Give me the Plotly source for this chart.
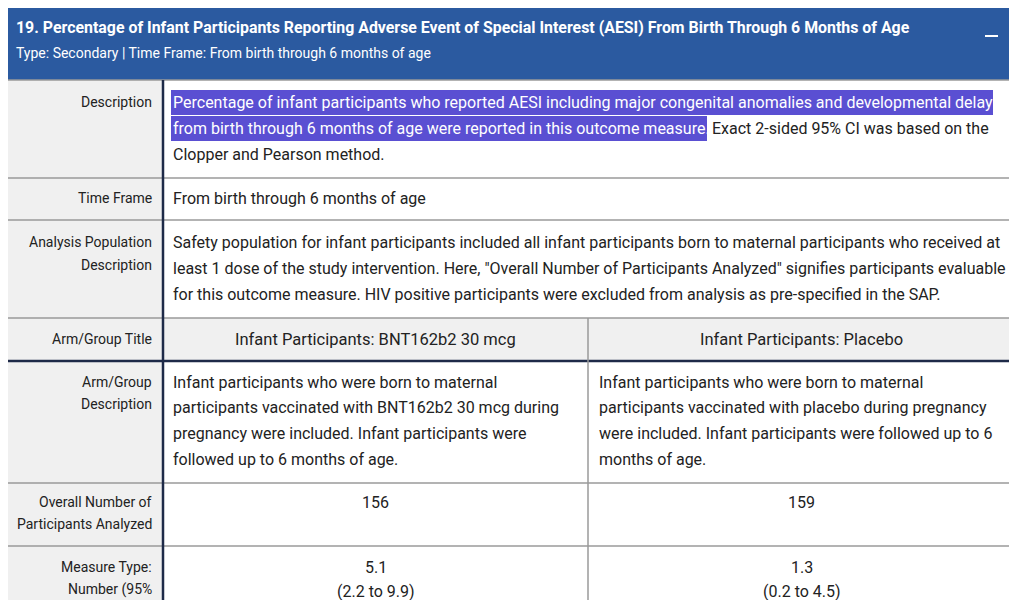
import plotly.graph_objects as go

title = "19. Percentage of Infant Participants Reporting Adverse Event of Special Interest (AESI) From Birth Through 6 Months of Age"
subtitle = "Type: Secondary | Time Frame: From birth through 6 months of age"
arm_titles = ["Infant Participants: BNT162b2 30 mcg", "Infant Participants: Placebo"]
arm_desc = [
    ["Infant participants who were born to maternal", "participants vaccinated with BNT162b2 30 mcg during",
     "pregnancy were included. Infant participants were", "followed up to 6 months of age."],
    ["Infant participants who were born to maternal", "participants vaccinated with placebo during pregnancy",
     "were included. Infant participants were followed up to 6", "months of age."],
]
n_analyzed = [156, 159]
measure_values = [5.1, 1.3]
ci_low = [2.2, 0.2]
ci_high = [9.9, 4.5]
desc_hl = ["Percentage of infant participants who reported AESI including major congenital anomalies and developmental delay",
           "from birth through 6 months of age were reported in this outcome measure."]
desc_rest = ["Exact 2-sided 95% CI was based on the", "Clopper and Pearson method."]
time_frame = "From birth through 6 months of age"
pop_lines = ["Safety population for infant participants included all infant participants born to maternal participants who received at",
             "least 1 dose of the study intervention. Here, \"Overall Number of Participants Analyzed\" signifies participants evaluable",
             "for this outcome measure. HIV positive participants were excluded from analysis as pre-specified in the SAP."]

W, H = 1017, 600
OFF = 8  # page body margin
FONT = "Roboto"
fig = go.Figure()
shapes, ann = [], []

def rect(x0, y0, x1, y1, fill, lw=0, lc=None):
    shapes.append(dict(type="rect", xref="x", yref="y", x0=x0, y0=y0, x1=x1, y1=y1,
                       fillcolor=fill, line=dict(width=lw, color=lc or fill), layer="below"))

def line(x0, y0, x1, y1, color, w):
    shapes.append(dict(type="line", xref="x", yref="y", x0=x0, y0=y0, x1=x1, y1=y1,
                       line=dict(color=color, width=w), layer="above"))

def text(x, y, s, size=16, color="#222", anchor="left", bold=False):
    if bold:
        s = "<b>" + s + "</b>"
    ann.append(dict(x=x, y=y, xref="x", yref="y", text=s, showarrow=False, xanchor=anchor,
                    yanchor="middle", font=dict(family=FONT, size=size, color=color)))

# header
rect(0, 0, W, 80, "#2b5aa0")
text(14, 27, title, 15.9, "white", bold=True)
text(14, 53, subtitle, 14, "white")
line(985, 36, 998, 36, "white", 2)

L, C1, C2, R = 2, 163, 588, 1015
rect(L, 80, R, 600, "white")
rect(L, 80, C1, 600, "#f0f0f0")
rect(C1, 318, R, 361, "#f0f0f0")

rows = [80, 178, 220, 318, 361, 483, 546]
for y in rows:
    line(L, y, R, y, "#9a9a9a", 1.5)
line(L, 361, R, 361, "#1e2a48", 2.5)
line(L, 80, L, 600, "#9a9a9a", 1.5)
line(R, 80, R, 600, "#9a9a9a", 1.5)
line(C1, 80, C1, 600, "#1e2a48", 2.5)
line(C2, 318, C2, 600, "#9a9a9a", 1.5)

LX, LS = 154, 14
text(LX, 102, "Description", LS, anchor="right")
rect(171, 90, 993, 115, "#5a4fd2")
rect(171, 116, 707, 141, "#5a4fd2")
text(171, 102, desc_hl[0], 16, "white")
text(171, 128, desc_hl[1], 16, "white")
text(710, 128, desc_rest[0], 16)
text(171, 154, desc_rest[1], 16)

text(LX, 198, "Time Frame", LS, anchor="right")
text(171, 198, time_frame, 16)

text(LX, 242, "Analysis Population", LS, anchor="right")
text(LX, 265, "Description", LS, anchor="right")
for i, s in enumerate(pop_lines):
    text(171, 242 + 26 * i, s, 16)

text(LX, 339, "Arm/Group Title", LS, anchor="right")
centers = [(C1 + C2) / 2, (C2 + R) / 2]
lefts = [171, 597]
for k in range(2):
    text(centers[k], 339, arm_titles[k], 16.5, anchor="center")
    for i, s in enumerate(arm_desc[k]):
        text(lefts[k], 382 + 25.7 * i, s, 16)
    text(centers[k], 502, str(n_analyzed[k]), 16, anchor="center")
    text(centers[k], 567, f"{measure_values[k]}", 16, anchor="center")
    text(centers[k], 591, f"({ci_low[k]} to {ci_high[k]})", 16, anchor="center")

text(LX, 382, "Arm/Group", LS, anchor="right")
text(LX, 404, "Description", LS, anchor="right")
text(LX, 502, "Overall Number of", LS, anchor="right")
text(LX, 524, "Participants Analyzed", LS, anchor="right")
text(LX, 567, "Measure Type:", LS, anchor="right")
text(LX, 589, "Number (95%", LS, anchor="right")

fig.update_layout(width=W - OFF, height=H - OFF, margin=dict(l=0, r=0, t=0, b=0),
                  paper_bgcolor="white", plot_bgcolor="white",
                  xaxis=dict(range=[OFF, W], visible=False, fixedrange=True),
                  yaxis=dict(range=[H, OFF], visible=False, fixedrange=True),
                  shapes=shapes, annotations=ann, showlegend=False)
fig.write_html("out.html", config={"displayModeBar": False})
